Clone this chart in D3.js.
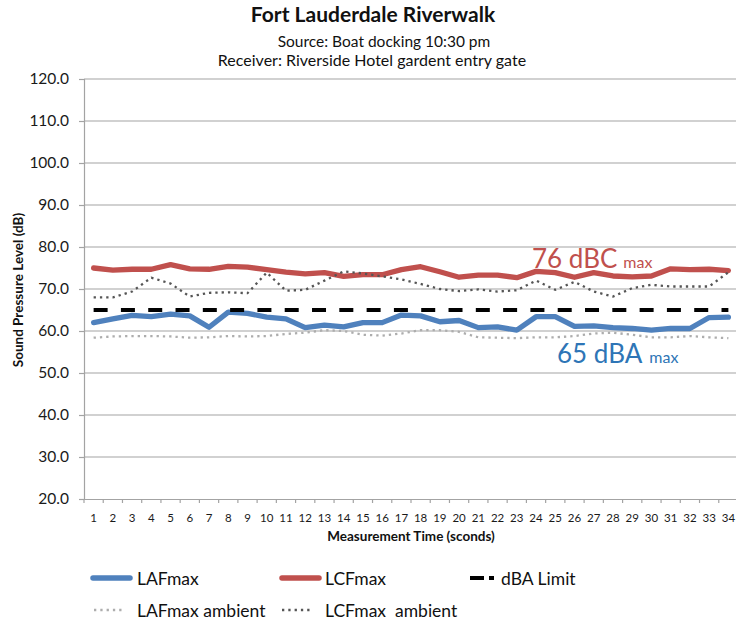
<!DOCTYPE html>
<html>
<head>
<meta charset="utf-8">
<script src="https://cdn.jsdelivr.net/npm/d3@7"></script>
<style>
  html, body { margin: 0; padding: 0; background: #fff; }
  svg { display: block; }
  text { font-family: Lato, "Open Sans", sans-serif; }
</style>
</head>
<body>
<svg id="chart" width="736" height="621"></svg>
<script>
const categories = [1,2,3,4,5,6,7,8,9,10,11,12,13,14,15,16,17,18,19,20,21,22,23,24,25,26,27,28,29,30,31,32,33,34];
const lafMax = [62.0,62.9,63.7,63.4,64.0,63.6,60.9,64.5,64.2,63.3,62.9,60.8,61.4,61.0,62.0,62.0,63.8,63.6,62.2,62.5,60.8,61.0,60.2,63.4,63.4,61.1,61.2,60.8,60.6,60.2,60.6,60.6,63.2,63.3];
const lcfMax = [75.0,74.5,74.7,74.7,75.8,74.8,74.7,75.4,75.2,74.6,74.0,73.6,73.9,73.0,73.4,73.4,74.6,75.3,74.1,72.8,73.3,73.3,72.7,74.2,73.9,72.8,73.9,73.1,72.9,73.1,74.8,74.6,74.7,74.4];
const dbaLimit = [65,65,65,65,65,65,65,65,65,65,65,65,65,65,65,65,65,65,65,65,65,65,65,65,65,65,65,65,65,65,65,65,65,65];
const lafAmbient = [58.4,58.7,58.8,58.8,58.7,58.4,58.5,58.8,58.7,58.8,59.3,59.6,60.2,60.0,59.1,58.9,59.4,60.2,60.2,59.8,58.5,58.4,58.3,58.5,58.5,58.8,59.4,59.6,59.1,58.5,58.5,58.8,58.5,58.3];
const lcfAmbient = [68.0,68.0,69.4,72.7,71.3,68.2,69.1,69.2,69.0,73.9,69.6,69.8,72.0,74.2,73.7,73.0,72.3,71.2,70.0,69.5,69.9,69.4,69.7,72.0,69.8,71.7,69.4,68.2,70.2,71.0,70.6,70.6,70.6,74.0];
const yTicks = [20,30,40,50,60,70,80,90,100,110,120];
const seriesNames = ["LAFmax","LCFmax","dBA Limit","LAFmax ambient","LCFmax  ambient"];

const titleText = "Fort Lauderdale Riverwalk";
const subtitle1 = "Source: Boat docking 10:30 pm";
const subtitle2 = "Receiver: Riverside Hotel gardent entry gate";
const yTitle = "Sound Pressure Level (dB)";
const xTitle = "Measurement Time (sconds)";

const svg = d3.select("#chart");
const plotLeft = 84, plotRight = 738, plotTop = 79, plotBottom = 499;

const x = d3.scaleBand().domain(categories).range([plotLeft, plotRight]).paddingInner(0).paddingOuter(0);
const xc = d => x(d) + x.bandwidth() / 2;
const y = d3.scaleLinear().domain([20, 120]).range([plotBottom, plotTop]);

// gridlines
svg.append("g").selectAll("line").data(yTicks.filter(t => t > 20)).join("line")
  .attr("x1", plotLeft).attr("x2", 736)
  .attr("y1", d => y(d)).attr("y2", d => y(d))
  .attr("stroke", "#a3a3a3").attr("stroke-width", 1.2);

// y axis
const yAxis = d3.axisLeft(y).tickValues(yTicks).tickSize(5).tickPadding(10).tickFormat(d3.format(".1f"));
const gy = svg.append("g").attr("transform", `translate(${plotLeft},0)`).call(yAxis);
gy.select(".domain").attr("stroke", "#a3a3a3").attr("stroke-width", 1.2);
gy.selectAll(".tick line").attr("stroke", "#a3a3a3").attr("stroke-width", 1.2);
gy.selectAll(".tick text").attr("font-size", 15.5).attr("fill", "#1a1a1a").attr("font-family", "Lato, sans-serif");

// x axis
const xAxis = d3.axisBottom(x).tickSize(0).tickPadding(15);
const gx = svg.append("g").attr("transform", `translate(0,${plotBottom})`).call(xAxis);
gx.select(".domain").attr("stroke", "#a3a3a3").attr("stroke-width", 1.2);
gx.selectAll(".tick text").attr("font-size", 11.5).attr("fill", "#1a1a1a").attr("font-family", "Lato, sans-serif");
const bounds = categories.map(c => x(c)).concat([x(categories[categories.length - 1]) + x.bandwidth()]);
gx.append("g").selectAll("line").data(bounds).join("line")
  .attr("x1", d => d).attr("x2", d => d).attr("y1", 0).attr("y2", 4)
  .attr("stroke", "#a3a3a3").attr("stroke-width", 1.2);

// lines
const line = d3.line().x((d, i) => xc(categories[i])).y(d => y(d));
const plot = svg.append("g");
plot.append("path").datum(lafMax).attr("d", line).attr("fill", "none")
  .attr("stroke", "#4F81BD").attr("stroke-width", 5.3).attr("stroke-linejoin", "round").attr("stroke-linecap", "round");
plot.append("path").datum(lcfMax).attr("d", line).attr("fill", "none")
  .attr("stroke", "#C0504D").attr("stroke-width", 5.3).attr("stroke-linejoin", "round").attr("stroke-linecap", "round");
plot.append("path").datum(dbaLimit).attr("d", line).attr("fill", "none")
  .attr("stroke", "#000").attr("stroke-width", 3.8).attr("stroke-dasharray", "14,13.3");
plot.append("path").datum(lafAmbient).attr("d", line).attr("fill", "none")
  .attr("stroke", "#adadad").attr("stroke-width", 2.3).attr("stroke-dasharray", "2.3,4");
plot.append("path").datum(lcfAmbient).attr("d", line).attr("fill", "none")
  .attr("stroke", "#555555").attr("stroke-width", 2.3).attr("stroke-dasharray", "2.3,4");

// annotations
const ann1 = svg.append("text").attr("x", 532).attr("y", 268).attr("fill", "#C0504D");
ann1.append("tspan").attr("font-size", 26).text("76 dBC");
ann1.append("tspan").attr("font-size", 16).attr("dx", 6).text("max");
const ann2 = svg.append("text").attr("x", 557).attr("y", 363).attr("fill", "#2E75B6");
ann2.append("tspan").attr("font-size", 26).text("65 dBA");
ann2.append("tspan").attr("font-size", 16).attr("dx", 7).text("max");

// titles
svg.append("text").attr("x", 373).attr("y", 22).attr("text-anchor", "middle")
  .attr("font-size", 21).attr("font-weight", "bold").attr("fill", "#111").text(titleText);
svg.append("text").attr("x", 384).attr("y", 47).attr("text-anchor", "middle")
  .attr("font-size", 15.5).attr("fill", "#111").text(subtitle1);
svg.append("text").attr("x", 372).attr("y", 66).attr("text-anchor", "middle")
  .attr("font-size", 16).attr("fill", "#111").text(subtitle2);
svg.append("text").attr("transform", "translate(23,290) rotate(-90)").attr("text-anchor", "middle")
  .attr("font-size", 13.5).attr("font-weight", "bold").attr("fill", "#111").text(yTitle);
svg.append("text").attr("x", 411).attr("y", 541).attr("text-anchor", "middle")
  .attr("font-size", 13.5).attr("font-weight", "bold").attr("fill", "#111").text(xTitle);

// legend
const legend = [
  {name: seriesNames[0], x: 93, y: 578, stroke: "#4F81BD", w: 5.5, dash: null, cap: "round", len: 37},
  {name: seriesNames[1], x: 282, y: 578, stroke: "#C0504D", w: 5.5, dash: null, cap: "round", len: 37},
  {name: seriesNames[2], x: 470, y: 578, stroke: "#000", w: 4, dash: "14,5", cap: "butt", len: 24},
  {name: seriesNames[3], x: 94, y: 610, stroke: "#adadad", w: 2.3, dash: "2.3,4", cap: "butt", len: 30},
  {name: seriesNames[4], x: 282, y: 610, stroke: "#555555", w: 2.3, dash: "2.3,4", cap: "butt", len: 31}
];
const lg = svg.append("g").selectAll("g").data(legend).join("g");
lg.append("line").attr("x1", d => d.x).attr("x2", d => d.x + d.len)
  .attr("y1", d => d.y).attr("y2", d => d.y)
  .attr("stroke", d => d.stroke).attr("stroke-width", d => d.w)
  .attr("stroke-linecap", d => d.cap).attr("stroke-dasharray", d => d.dash);
lg.append("text").attr("x", (d, i) => i === 2 ? 501 : (i % 3 === 0 ? 137 : 325))
  .attr("y", d => d.y + 6.5).attr("font-size", 17.5).attr("fill", "#111")
  .style("white-space", "pre").text(d => d.name);
</script>
</body>
</html>
